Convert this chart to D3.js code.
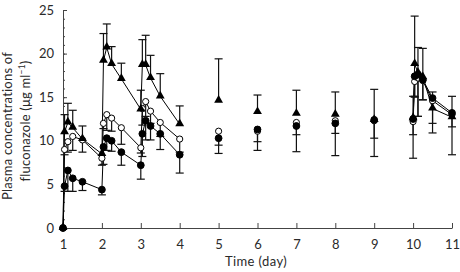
<!DOCTYPE html>
<html>
<head>
<meta charset="utf-8">
<script src="https://cdn.jsdelivr.net/npm/d3@7"></script>
<style>
  body { margin: 0; background: #fff; }
  text { font-family: Lato, "Open Sans", sans-serif; fill: #2a2a2a; }
</style>
</head>
<body>
<script>
const svgWidth = 460;
const svgHeight = 272;

// days 1-4 (daily dosing), times in days
const seg1Times = [1, 1.04, 1.125, 1.25, 1.5, 2, 2.04, 2.125, 2.25, 2.5, 3, 3.04, 3.125, 3.25, 3.5, 4];
const seg1Tri = [0, 11.0, 12.1, 11.5, 10.2, 8.5, 19.2, 20.7, 18.8, 17.1, 13.6, 18.7, 18.7, 17.2, 15.1, 11.9];
const seg1TriSD = [0, 2.0, 2.2, 2.0, 1.5, 0, 3.1, 2.7, 2.0, 1.8, 2.2, 2.9, 3.4, 2.6, 2.6, 2.1];
const seg1Open = [0, 9.0, 9.9, 10.5, 10.1, 8.0, 12.0, 13.0, 12.6, 11.5, 9.2, 13.7, 14.5, 13.4, 12.1, 10.2];
const seg1OpenSD = [0, 0.6, 1.2, 1.6, 1.4, 0.8, 0.6, 1.8, 1.5, 1.9, 0.6, 1.9, 1.7, 1.4, 1.6, 1.5];
const seg1Filled = [0, 4.8, 6.6, 5.7, 5.3, 4.4, 9.3, 10.3, 10.0, 8.7, 7.2, 10.8, 12.3, 11.7, 10.8, 8.4];
const seg1FilledSD = [0, 0.6, 2.4, 1.5, 1.0, 0.6, 2.0, 1.4, 1.2, 1.5, 1.6, 2.6, 2.2, 1.6, 1.8, 2.1];

// single trough samples, days 5-9
const isoTimes = [5, 6, 7, 8, 9];
const isoTri = [14.6, 13.3, 13.1, 13.0, 12.4];
const isoTriSD = [4.8, 1.95, 2.7, 2.6, 3.5];
const isoOpen = [11.1, 11.1, 12.1, 12.3, 12.3];
const isoOpenSD = [1.6, 1.2, 1.4, 1.45, 2.0];
const isoFilled = [10.3, 11.3, 11.7, 12.0, 12.4];
const isoFilledSD = [1.75, 2.4, 2.95, 3.7, 4.2];

// day 10-11
const seg2Times = [10, 10.04, 10.125, 10.25, 10.5, 11];
const seg2Tri = [12.6, 18.8, 17.8, 17.3, 13.7, 12.7];
const seg2TriSD = [2.5, 5.5, 2.9, 3.3, 1.9, 2.4];
const seg2Open = [12.2, 16.8, 17.2, 16.9, 14.6, 13.0];
const seg2OpenSD = [1.5, 1.8, 4.4, 2.2, 2.6, 1.4];
const seg2Filled = [12.5, 17.4, 17.6, 17.0, 14.9, 13.2];
const seg2FilledSD = [4.5, 2.3, 4.8, 2.3, 4.0, 4.8];

const xTicks = [1, 2, 3, 4, 5, 6, 7, 8, 9, 10, 11];
const yTicks = [0, 5, 10, 15, 20, 25];

const svg = d3.select('body')
              .append('svg')
              .attr('width', svgWidth)
              .attr('height', svgHeight);

const x = d3.scaleLinear().domain([1, 11]).range([63, 452]);
const y = d3.scaleLinear().domain([0, 25]).range([228, 10]);

// build point lists
function pts(times, means, sds) {
  return times.map((t, i) => ({ t: t, v: means[i], sd: sds[i] }));
}
const series = [
  { kind: 'filled', dir: 1, segs: [pts(seg1Times, seg1Filled, seg1FilledSD), pts(seg2Times, seg2Filled, seg2FilledSD)], iso: pts(isoTimes, isoFilled, isoFilledSD) },
  { kind: 'open', dir: 1, segs: [pts(seg1Times, seg1Open, seg1OpenSD), pts(seg2Times, seg2Open, seg2OpenSD)], iso: pts(isoTimes, isoOpen, isoOpenSD) },
  { kind: 'tri', dir: -1, segs: [pts(seg1Times, seg1Tri, seg1TriSD), pts(seg2Times, seg2Tri, seg2TriSD)], iso: pts(isoTimes, isoTri, isoTriSD) }
];

// axes
const yAxisMinor = d3.axisLeft(y).ticks(25).tickSize(-2).tickFormat('').tickSizeOuter(0);
svg.append('g').attr('transform', 'translate(63,0)').call(yAxisMinor)
   .call(g => g.select('.domain').remove())
   .selectAll('line').attr('stroke', '#444');

const yAxis = d3.axisLeft(y).tickValues(yTicks).tickSize(-4).tickSizeOuter(0).tickPadding(9);
svg.append('g').attr('transform', 'translate(63,0)').call(yAxis)
   .call(g => g.selectAll('text').attr('font-size', 13).attr('font-family', 'Lato, sans-serif').attr('fill', '#333'))
   .call(g => g.selectAll('line, path').attr('stroke', '#444'));

const xAxis = d3.axisBottom(x).tickValues(xTicks).tickSize(-5).tickSizeOuter(0).tickPadding(12);
svg.append('g').attr('transform', 'translate(0,228)').call(xAxis)
   .call(g => g.selectAll('text').attr('font-size', 13).attr('font-family', 'Lato, sans-serif').attr('fill', '#333'))
   .call(g => g.selectAll('line, path').attr('stroke', '#444'));

// axis titles
svg.append('text')
   .attr('x', 256).attr('y', 266)
   .attr('text-anchor', 'middle')
   .attr('font-size', 13)
   .attr('letter-spacing', 0.4)
   .text('Time (day)');

const yl = svg.append('g').attr('transform', 'rotate(-90)');
yl.append('text')
  .attr('x', -126).attr('y', 12)
  .attr('text-anchor', 'middle')
  .attr('font-size', 13)
  .attr('letter-spacing', 0.2)
  .text('Plasma concentrations of');
const t2 = yl.append('text')
  .attr('x', -121).attr('y', 30)
  .attr('text-anchor', 'middle')
  .attr('font-size', 13)
  .attr('letter-spacing', 0.2);
t2.append('tspan').text('fluconazole (\u03bcg ml');
t2.append('tspan').attr('font-size', 8.5).attr('dy', -5).text('\u22121');
t2.append('tspan').attr('dy', 5).text(')');

// lines
const line = d3.line().x(d => x(d.t)).y(d => y(d.v));
series.forEach(s => {
  s.segs.forEach(seg => {
    svg.append('path')
       .datum(seg)
       .attr('d', line)
       .attr('fill', 'none')
       .attr('stroke', '#000')
       .attr('stroke-width', 1);
  });
});

// error bars (triangles up, circles down)
series.forEach(s => {
  const all = s.segs[0].concat(s.segs[1], s.iso).filter(d => d.sd > 0);
  const g = svg.append('g').attr('stroke', '#111').attr('stroke-width', 1.2);
  g.selectAll('line.v').data(all).enter().append('line')
   .attr('x1', d => x(d.t)).attr('x2', d => x(d.t))
   .attr('y1', d => y(d.v)).attr('y2', d => y(d.v - s.dir * d.sd));
  g.selectAll('line.c').data(all).enter().append('line')
   .attr('x1', d => x(d.t) - 4).attr('x2', d => x(d.t) + 4)
   .attr('y1', d => y(d.v - s.dir * d.sd)).attr('y2', d => y(d.v - s.dir * d.sd));
});

// markers
const order = [series[1], series[0], series[2]];
order.forEach(s => {
  const all = s.segs[0].concat(s.segs[1], s.iso);
  if (s.kind === 'tri') {
    svg.selectAll(null).data(all).enter().append('path')
       .attr('d', d3.symbol(d3.symbolTriangle, 34))
       .attr('transform', d => 'translate(' + x(d.t) + ',' + (y(d.v) - 0.5) + ')')
       .attr('fill', '#000');
  } else {
    svg.selectAll(null).data(all).enter().append('circle')
       .attr('cx', d => x(d.t))
       .attr('cy', d => y(d.v))
       .attr('r', s.kind === 'open' ? 3.1 : 3.4)
       .attr('fill', s.kind === 'open' ? '#fff' : '#000')
       .attr('stroke', '#000')
       .attr('stroke-width', 1);
  }
});
</script>
</body>
</html>
